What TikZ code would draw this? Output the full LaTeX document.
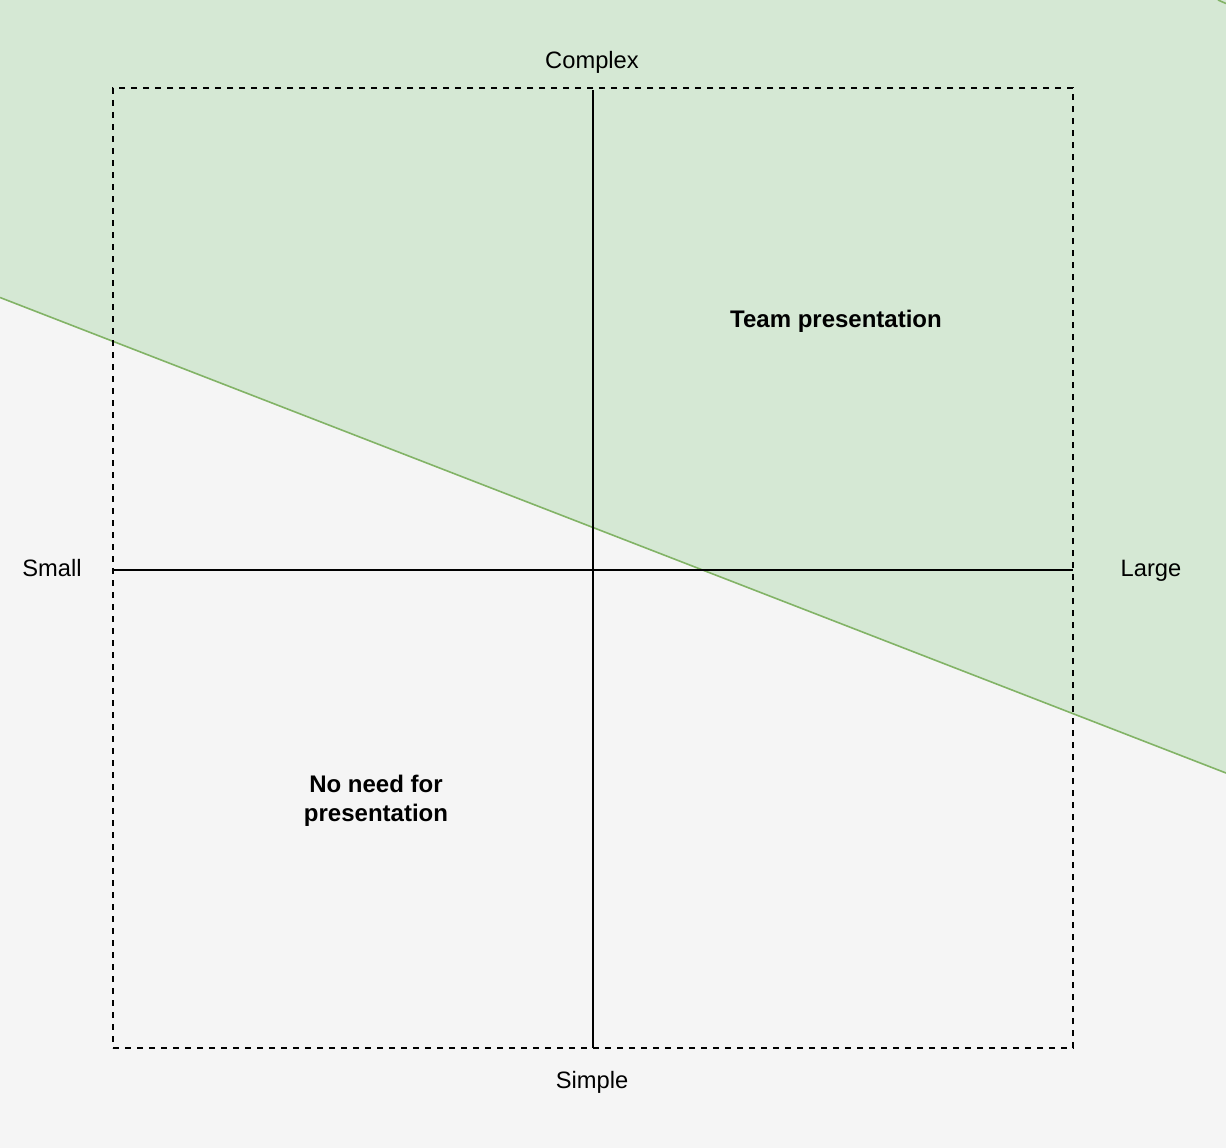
\documentclass[tikz,border=0pt]{standalone}
\usepackage{fontspec}
\setmainfont{Liberation Sans}
\definecolor{bggray}{HTML}{F5F5F5}
\definecolor{zonefill}{HTML}{D5E8D4}
\definecolor{zoneline}{HTML}{82B366}
\begin{document}
\begin{tikzpicture}[x=1pt,y=-1pt,
  lbl/.style={font=\fontsize{23.7}{28}\selectfont, text=black, inner sep=0pt, anchor=base},
  boldlbl/.style={font=\fontsize{24}{29}\selectfont\bfseries, text=black, inner sep=0pt, anchor=center, align=center},
  axisline/.style={draw=black, line width=1.6pt},
  framebox/.style={draw=black, line width=1.6pt, dash pattern=on 6pt off 6pt}]
\useasboundingbox (0,0) rectangle (1226,1148);
\fill[bggray] (0,0) rectangle (1226,1148);
% green zone
\fill[zonefill] (0,0) -- (1226,0) -- (1226,773) -- (0,297.5) -- cycle;
\coordinate (zl) at (0,297.5);
\coordinate (zr) at (1226,773);
\draw[zoneline, line width=1.6pt] (zl) -- (zr);
\coordinate (ca) at (1218,0);
\coordinate (cb) at (1226,3.5);
\draw[zoneline, line width=1.6pt] (ca) -- (cb);
% frame
\node[framebox, minimum width=960pt, minimum height=960pt, inner sep=0pt] (frame) at (593,568) {};
% axes
\coordinate (vt) at (593,90);
\coordinate (vb) at (593,1048);
\coordinate (hl) at (113,570);
\coordinate (hr) at (1073,570);
\draw[axisline] (vt) -- (vb);
\draw[axisline] (hl) -- (hr);
% labels
\node[lbl] (complex) at (592,68) {Complex};
\node[lbl] (simple) at (592,1088) {Simple};
\node[lbl] (small) at (52,576) {Small};
\node[lbl] (large) at (1151,576) {Large};
\node[boldlbl] (team) at (836,321) {Team presentation};
\node[boldlbl] (noneed) at (376,801) {No need for\\presentation};
\end{tikzpicture}
\end{document}
